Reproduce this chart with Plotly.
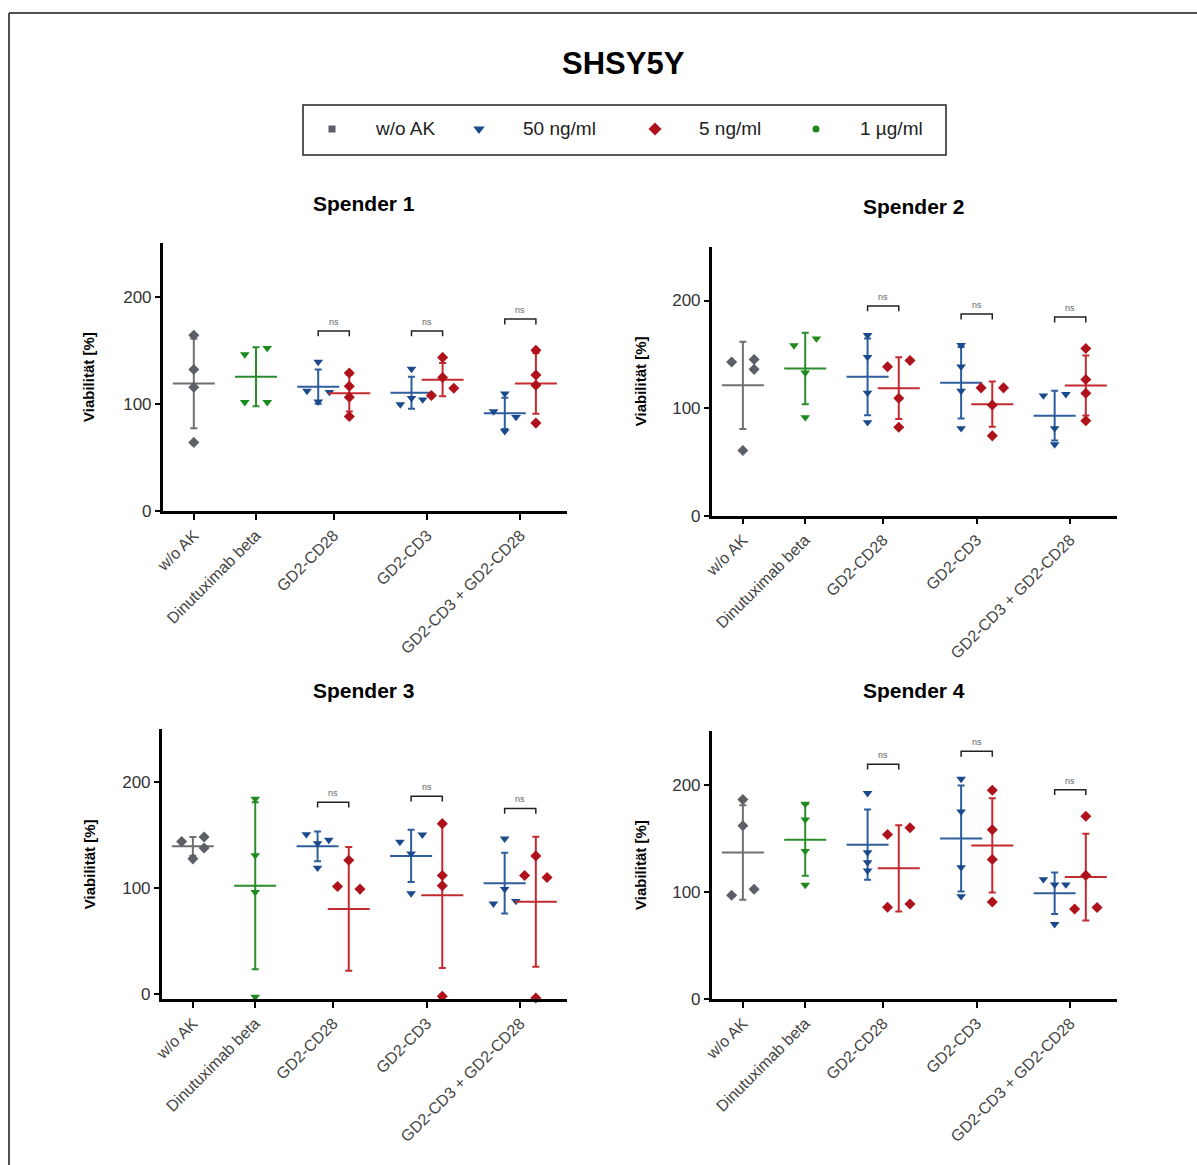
import numpy as np
import plotly.graph_objects as go

# ---- labels -------------------------------------------------------------
main_title = "SHSY5Y"
panel_titles = ["Spender 1", "Spender 2", "Spender 3", "Spender 4"]
categories = ["w/o AK", "Dinutuximab beta", "GD2-CD28", "GD2-CD3", "GD2-CD3 + GD2-CD28"]
legend_labels = ["w/o AK", "50 ng/ml", "5 ng/ml", "1 µg/ml"]
y_title = "Viabilität [%]"
y_ticks = [0, 100, 200]

# ---- viability [%] per donor and condition --------------------------------
s1_woak = [164, 132, 115.5, 64]
s1_dinu = [146, 152, 101.5, 101.5]
s1_cd28_50 = [139, 112, 111, 102]
s1_cd28_5 = [128.8, 116.4, 106.2, 88.2]
s1_cd3_50 = [132.5, 99.4, 105.3, 104]
s1_cd3_5 = [143.3, 124.5, 107.7, 114.5]
s1_combo_50 = [109.6, 92.9, 87.6, 74.3]
s1_combo_5 = [150, 126.9, 117.3, 82]

s2_woak = [142.8, 145.2, 136, 60.6]
s2_dinu = [158.2, 164.6, 132.9, 91.4]
s2_cd28_50 = [167.7, 147.4, 114.2, 86.8]
s2_cd28_5 = [138.5, 144.3, 109.2, 82.2]
s2_cd3_50 = [158.5, 138.5, 116, 81.2]
s2_cd3_5 = [118.8, 118.8, 102.8, 74.2]
s2_combo_50 = [111.7, 112.9, 81.2, 66.2]
s2_combo_5 = [155.4, 126.5, 113.8, 88.3]

s3_woak = [143.8, 148.2, 137.8, 127.5]
s3_dinu = [184.3, 130.9, 96.1, -3.1]
s3_cd28_50 = [150.7, 145.4, 142.2, 119]
s3_cd28_5 = [126.2, 101.4, 98.9, -5.7]
s3_cd3_50 = [143.5, 150.4, 132.5, 94.8]
s3_cd3_5 = [160.8, 111.8, 102, -2.5]
s3_combo_50 = [146.6, 98.9, 85.1, 87.6]
s3_combo_5 = [130.3, 111.8, 109.9, -4.1]

s4_woak = [186, 161.6, 96.7, 102.3]
s4_dinu = [182, 167.4, 138, 106.4]
s4_cd28_50 = [192, 136.7, 127.4, 119.7]
s4_cd28_5 = [153.5, 159.7, 85.6, 88.7]
s4_cd3_50 = [205.3, 174.9, 122.8, 95.8]
s4_cd3_5 = [194.7, 157.8, 130.2, 90.5]
s4_combo_50 = [111.6, 106.7, 106.7, 69.8]
s4_combo_5 = [170.5, 115.3, 84, 85.3]

# heights of the "ns" comparison brackets (CD28, CD3, CD3 + CD28)
s1_ns = [168, 168, 179]
s2_ns = [195, 187.4, 184.6]
s3_ns = [181, 186.8, 175.2]
s4_ns = [219, 231, 195.3]

# horizontal spreading of overlapping points (-1 left, 0 centre, +1 right)
s1_spread = [[0, 0, 0, 0], [-1, 1, -1, 1], [0, -1, 1, 0], [0, 0, 0, 0],
             [0, -1, 0, 1], [0, 0, -1, 1], [0, -1, 1, 0], [0, 0, 0, 0]]
s2_spread = [[-1, 1, 1, 0], [-1, 1, 0, 0], [0, 0, 0, 0], [-1, 1, 0, 0],
             [0, 0, 0, 0], [-1, 1, 0, 0], [-1, 1, 0, 0], [0, 0, 0, 0]]
s3_spread = [[-1, 1, 1, 0], [0, 0, 0, 0], [-1, 1, 0, 0], [0, -1, 1, 0],
             [-1, 1, 0, 0], [0, 0, 0, 0], [0, 0, -1, 1], [0, -1, 1, 0]]
s4_spread = [[0, 0, -1, 1], [0, 0, 0, 0], [0, 0, 0, 0], [-1, 1, -1, 1],
             [0, 0, 0, 0], [0, 0, 0, 0], [-1, 0, 1, 0], [0, 0, -1, 1]]

donors = [
    ([s1_woak, s1_dinu, s1_cd28_50, s1_cd28_5, s1_cd3_50, s1_cd3_5, s1_combo_50, s1_combo_5], s1_ns, s1_spread),
    ([s2_woak, s2_dinu, s2_cd28_50, s2_cd28_5, s2_cd3_50, s2_cd3_5, s2_combo_50, s2_combo_5], s2_ns, s2_spread),
    ([s3_woak, s3_dinu, s3_cd28_50, s3_cd28_5, s3_cd3_50, s3_cd3_5, s3_combo_50, s3_combo_5], s3_ns, s3_spread),
    ([s4_woak, s4_dinu, s4_cd28_50, s4_cd28_5, s4_cd3_50, s4_cd3_5, s4_combo_50, s4_combo_5], s4_ns, s4_spread),
]

# ---- styling ---------------------------------------------------------------
W, H = 1197, 1165
FONT = "Arial, Liberation Sans, sans-serif"
GRAY, GRAY_BAR = "#5c5f66", "#707070"
BLUE, BLUE_BAR = "#1b4a8c", "#2f5e9d"
RED, RED_BAR = "#b0121b", "#c22a30"
GREEN, GREEN_BAR = "#1d8a1d", "#2a8c2a"

# group centre on the x axis, marker colour, bar colour, symbol
group_style = [
    (0, GRAY, GRAY_BAR, "diamond"),
    (2, GREEN, GREEN_BAR, "triangle-down"),
    (4, BLUE, BLUE_BAR, "triangle-down"),
    (5, RED, RED_BAR, "diamond"),
    (7, BLUE, BLUE_BAR, "triangle-down"),
    (8, RED, RED_BAR, "diamond"),
    (10, BLUE, BLUE_BAR, "triangle-down"),
    (11, RED, RED_BAR, "diamond"),
]
cat_ticks = [0, 2, 4.5, 7.5, 10.5]
bracket_pairs = [(4, 5), (7, 8), (10, 11)]
SPREAD = 0.36

# plot areas in pixels: (left, right, top, bottom), y range
panels = [
    ((162.7, 567.0, 243.0, 511.0), [0, 250]),
    ((711.7, 1117.0, 246.7, 515.7), [0, 250]),
    ((161.7, 567.0, 729.3, 999.0), [-5, 250]),
    ((711.7, 1117.0, 731.0, 999.0), [0, 250]),
]
title_pos = [(364, 203), (914, 206), (364, 690), (914, 690)]
ytitle_x = [89, 640, 89, 640]


def px(x):
    return x / W


def py(y):
    return 1 - y / H


fig = go.Figure()
layout = dict(
    width=W, height=H,
    margin=dict(l=0, r=0, t=0, b=0, autoexpand=False),
    paper_bgcolor="white", plot_bgcolor="white",
    showlegend=False,
    font=dict(family=FONT, color="#333333"),
)
annotations = []
shapes = []

for i, ((vals_list, ns_list, spread_list), (box, yr)) in enumerate(zip(donors, panels)):
    n = i + 1
    xa, ya = f"x{n}", f"y{n}"
    l, r, t, b = box
    layout[f"xaxis{n}"] = dict(
        domain=[px(l), px(r)], anchor=ya, range=[-1, 12], automargin=False,
        showline=True, linecolor="black", linewidth=2.5,
        ticks="outside", ticklen=6, tickwidth=2, tickcolor="black",
        tickvals=cat_ticks, ticktext=categories, tickangle=-45,
        tickfont=dict(size=16, color="#444444", family=FONT),
        showgrid=False, zeroline=False, fixedrange=True,
    )
    layout[f"yaxis{n}"] = dict(
        domain=[py(b), py(t)], anchor=xa, range=yr, automargin=False,
        showline=True, linecolor="black", linewidth=2.5,
        ticks="outside", ticklen=5, tickwidth=2, tickcolor="black",
        tickvals=y_ticks, tickfont=dict(size=17, color="#333333", family=FONT),
        showgrid=False, zeroline=False, fixedrange=True,
    )

    for vals, spread, (cx, mcol, bcol, sym) in zip(vals_list, spread_list, group_style):
        v = np.array(vals, dtype=float)
        mean = v.mean()
        sd = v.std(ddof=1)
        # mean line with SD whiskers
        fig.add_trace(go.Scatter(
            x=[cx], y=[mean], xaxis=xa, yaxis=ya, mode="markers",
            marker=dict(symbol="line-ew", size=30, color=bcol, line=dict(width=2, color=bcol)),
            error_y=dict(type="data", array=[sd], visible=True, color=bcol, thickness=2, width=3.5),
            cliponaxis=False, hoverinfo="skip",
        ))
        # individual replicates
        fig.add_trace(go.Scatter(
            x=cx + SPREAD * np.array(spread, dtype=float), y=v, xaxis=xa, yaxis=ya,
            mode="markers",
            marker=dict(symbol=sym, size=8.5, color=mcol, line=dict(width=0)),
            cliponaxis=False,
        ))

    # "ns" brackets between 50 ng/ml and 5 ng/ml
    for (x0, x1), h in zip(bracket_pairs, ns_list):
        fig.add_trace(go.Scatter(
            x=[x0, x0, x1, x1], y=[h - 5, h, h, h - 5], xaxis=xa, yaxis=ya,
            mode="lines", line=dict(color="#222222", width=1.5),
            cliponaxis=False, hoverinfo="skip",
        ))
        annotations.append(dict(
            x=(x0 + x1) / 2, y=h, xref=xa, yref=ya, text="ns", showarrow=False,
            yanchor="bottom", yshift=2, font=dict(size=9, color="#666666", family=FONT),
        ))

    # panel title and y-axis title
    tx, ty = title_pos[i]
    annotations.append(dict(
        x=px(tx), y=py(ty), xref="paper", yref="paper", text=f"<b>{panel_titles[i]}</b>",
        showarrow=False, xanchor="center", yanchor="middle",
        font=dict(size=21, color="black", family=FONT),
    ))
    annotations.append(dict(
        x=px(ytitle_x[i]), y=py((t + b) / 2), xref="paper", yref="paper",
        text=f"<b>{y_title}</b>", textangle=-90, showarrow=False,
        xanchor="center", yanchor="middle",
        font=dict(size=15, color="black", family=FONT),
    ))

# main title
annotations.append(dict(
    x=px(623), y=py(63), xref="paper", yref="paper", text=f"<b>{main_title}</b>",
    showarrow=False, xanchor="center", yanchor="middle",
    font=dict(size=31, color="black", family=FONT),
))

# legend drawn on its own hidden axis pair inside a framed box
LX0, LX1, LY0, LY1 = 303, 946, 105, 155
layout["xaxis5"] = dict(domain=[px(LX0), px(LX1)], range=[LX0, LX1], anchor="y5",
                        visible=False, fixedrange=True, automargin=False)
layout["yaxis5"] = dict(domain=[py(LY1), py(LY0)], range=[LY1, LY0], anchor="x5",
                        visible=False, fixedrange=True, automargin=False)
shapes.append(dict(type="rect", xref="paper", yref="paper",
                   x0=px(LX0), x1=px(LX1), y0=py(LY1), y1=py(LY0),
                   line=dict(color="#222222", width=1.5)))
legend_items = [
    (332, 373, GRAY, "square", 7),
    (479, 521, BLUE, "triangle-down", 10),
    (655, 697, RED, "diamond", 10),
    (816, 858, GREEN, "circle", 7),
]
for (mx, tx, col, sym, sz), lab in zip(legend_items, legend_labels):
    fig.add_trace(go.Scatter(
        x=[mx], y=[129], xaxis="x5", yaxis="y5", mode="markers",
        marker=dict(symbol=sym, size=sz, color=col), hoverinfo="skip",
    ))
    annotations.append(dict(
        x=tx, y=128, xref="x5", yref="y5", text=lab, showarrow=False,
        xanchor="left", yanchor="middle", font=dict(size=19, color="#222222", family=FONT),
    ))

# outer frame (left and top edges)
shapes.append(dict(type="line", xref="paper", yref="paper",
                   x0=px(9), x1=px(9), y0=-0.05, y1=py(13),
                   line=dict(color="#505050", width=2)))
shapes.append(dict(type="line", xref="paper", yref="paper",
                   x0=px(9), x1=1.05, y0=py(13), y1=py(13),
                   line=dict(color="#505050", width=2)))

layout["annotations"] = annotations
layout["shapes"] = shapes
fig.update_layout(**layout)
fig.write_html("out.html")
